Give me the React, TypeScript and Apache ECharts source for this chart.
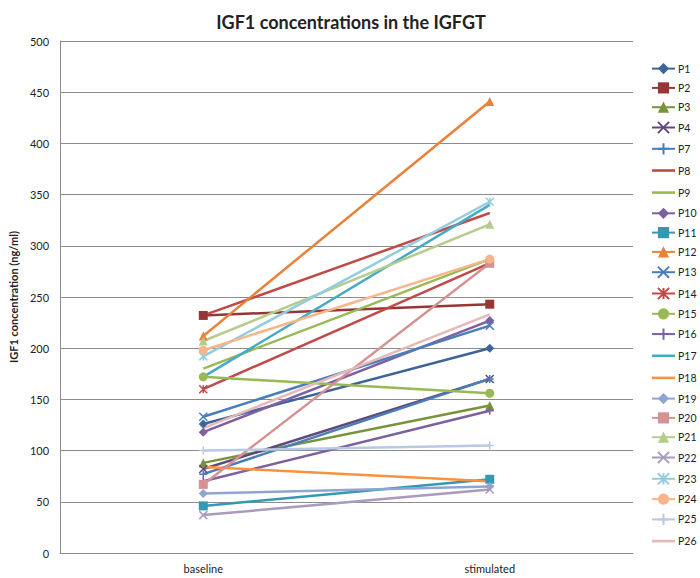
import React, { useEffect, useRef } from "react";
import * as echarts from "echarts";

const categories = ["baseline", "stimulated"];
const seriesNames = ["P1", "P2", "P3", "P4", "P7", "P8", "P9", "P10", "P11", "P12", "P13", "P14", "P15", "P16", "P17", "P18", "P19", "P20", "P21", "P22", "P23", "P24", "P25", "P26"];
const baselineValues = [126, 232, 88, 82, 77, 232, 180, 118, 46, 212, 133, 160, 172, 70, 172, 84, 58, 67, 207, 37, 192, 198, 100, 122];
const stimulatedValues = [200, 243, 144, 170, 170, 332, 287, 227, 72, 441, 222, 283, 156, 139, 340, 70, 65, 283, 321, 62, 343, 287, 105, 233];
const yTicks = { min: 0, max: 500, interval: 50 };

const seriesColors = ["#3C6499", "#953735", "#77933C", "#604A7B", "#4A7EBB", "#BE4B48", "#98B954", "#7D60A0", "#3399B3", "#E8823A", "#4A7EBB", "#BE4B48", "#98B954", "#7D60A0", "#46AAC5", "#F69240", "#8EA6CF", "#D49392", "#B5CC8E", "#A99BBD", "#93CDDD", "#F9B58A", "#B9C9E3", "#E6B9B8"];
const seriesMarkers = ["diamond", "rect", "triangle", "x", "plus", "none", "none", "diamond", "rect", "triangle", "x", "star", "circle", "plus", "none", "none", "diamond", "rect", "triangle", "x", "star", "circle", "plus", "none"];

const markerMap: Record<string, string> = {
  diamond: "diamond",
  rect: "rect",
  triangle: "triangle",
  circle: "circle",
  none: "none",
  x: "path://M0,0L10,10M10,0L0,10",
  plus: "path://M5,0L5,10M0,5L10,5",
  star: "path://M0,0L10,10M10,0L0,10M5,0L5,10",
};

// plain line icon for legend entries whose series has no marker
const lineOnlyIcon = "path://M0,0L0,0M0,5.7L23,5.7L23,8.3L0,8.3ZM23,14L23,14";

export default function App() {
  const ref = useRef<HTMLDivElement>(null);
  useEffect(() => {
    if (!ref.current) return;
    const chart = echarts.init(ref.current, undefined, { renderer: "svg" });
    const font = "Lato, 'Open Sans', sans-serif";
    const series = seriesNames.map((name, i) => {
      const m = seriesMarkers[i];
      const stroked = m === "x" || m === "plus" || m === "star";
      return {
        name,
        type: "line",
        data: [baselineValues[i], stimulatedValues[i]],
        color: seriesColors[i],
        symbol: markerMap[m],
        symbolSize: stroked ? 8 : 9,
        showSymbol: m !== "none",
        lineStyle: { width: 2.5, color: seriesColors[i] },
        itemStyle: {
          color: seriesColors[i],
          borderColor: seriesColors[i],
          borderWidth: stroked ? 1.5 : 0,
        },
        emphasis: { disabled: true },
      };
    });
    const legendData = seriesNames.map((name, i) =>
      seriesMarkers[i] === "none"
        ? { name, icon: lineOnlyIcon, itemStyle: { color: seriesColors[i], borderWidth: 0 } }
        : { name }
    );
    chart.setOption({
      animation: false,
      textStyle: { fontFamily: font },
      title: {
        text: "IGF1 concentrations in the IGFGT",
        left: 346,
        textAlign: "center",
        top: 8,
        textStyle: { fontFamily: font, fontSize: 18, fontWeight: "bold", color: "#222" },
      },
      grid: { left: 50, right: 67, top: 41, bottom: 25 },
      legend: {
        orient: "vertical",
        left: 651,
        top: 63,
        padding: 0,
        itemWidth: 23,
        itemHeight: 14,
        itemGap: 8.1,
        symbolKeepAspect: false,
        data: legendData,
        textStyle: { fontFamily: font, fontSize: 10.5, color: "#222", padding: [0, 0, 0, -2] },
      },
      xAxis: {
        type: "category",
        data: categories,
        boundaryGap: true,
        axisTick: { show: false },
        axisLine: { lineStyle: { color: "#8c8c8c", width: 1 } },
        axisLabel: { fontFamily: font, fontSize: 11, color: "#222", margin: 10 },
      },
      yAxis: {
        type: "value",
        min: yTicks.min,
        max: yTicks.max,
        interval: yTicks.interval,
        name: "IGF1 concentration (ng/ml)",
        nameLocation: "middle",
        nameGap: 31,
        nameTextStyle: { fontFamily: font, fontSize: 11, fontWeight: "bold", color: "#222" },
        axisLine: { show: true, lineStyle: { color: "#8c8c8c", width: 1 } },
        axisTick: { show: false },
        splitLine: { lineStyle: { color: "#8c8c8c", width: 1 } },
        axisLabel: { fontFamily: font, fontSize: 11, color: "#222", margin: 11 },
      },
      series,
    });
    return () => chart.dispose();
  }, []);
  return <div ref={ref} style={{ width: 700, height: 578, position: "absolute", left: 0, top: 0 }} />;
}
